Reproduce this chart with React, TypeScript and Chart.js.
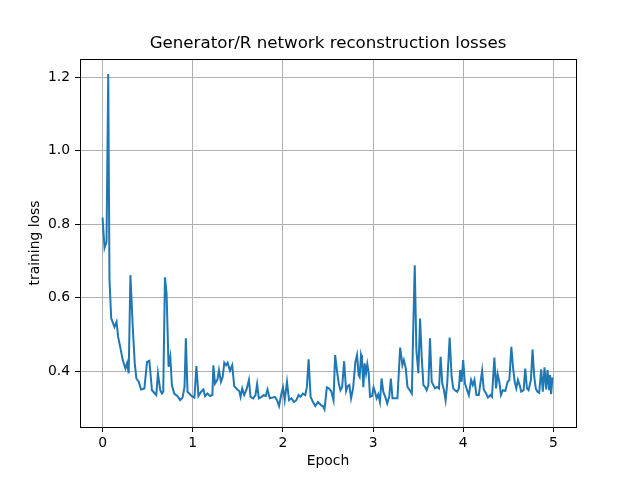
import React, { useEffect, useRef } from "react";
import { Chart, registerables } from "chart.js";

Chart.register(...registerables);

const epochs: number[] = [
  0.0, 0.022, 0.044, 0.063, 0.077, 0.096, 0.132, 0.155, 0.173, 0.199, 0.224, 0.254, 0.272, 0.29, 0.309,
  0.335, 0.357, 0.375, 0.401, 0.427, 0.464, 0.493, 0.519, 0.548, 0.596, 0.614, 0.64, 0.659, 0.673, 0.692,
  0.71, 0.732, 0.751, 0.769, 0.795, 0.831, 0.861, 0.887, 0.909, 0.924, 0.942, 0.99, 1.019, 1.041, 1.063,
  1.093, 1.119, 1.137, 1.163, 1.192, 1.218, 1.229, 1.247, 1.273, 1.291, 1.313, 1.332, 1.35, 1.369, 1.387,
  1.413, 1.438, 1.46, 1.494, 1.516, 1.531, 1.549, 1.571, 1.597, 1.623, 1.641, 1.67, 1.696, 1.714, 1.733,
  1.763, 1.788, 1.81, 1.829, 1.854, 1.884, 1.91, 1.935, 1.957, 1.984, 2.001, 2.02, 2.045, 2.068, 2.094,
  2.123, 2.149, 2.174, 2.196, 2.222, 2.248, 2.266, 2.285, 2.307, 2.333, 2.359, 2.388, 2.425, 2.443, 2.461,
  2.487, 2.509, 2.535, 2.561, 2.579, 2.601, 2.619, 2.638, 2.657, 2.679, 2.701, 2.719, 2.737, 2.756, 2.778,
  2.804, 2.822, 2.84, 2.851, 2.866, 2.877, 2.892, 2.906, 2.922, 2.936, 2.951, 2.966, 2.988, 3.005, 3.021,
  3.039, 3.057, 3.076, 3.094, 3.113, 3.135, 3.157, 3.179, 3.197, 3.215, 3.234, 3.27, 3.3, 3.325, 3.341,
  3.363, 3.381, 3.407, 3.43, 3.444, 3.462, 3.48, 3.502, 3.521, 3.539, 3.558, 3.576, 3.594, 3.613, 3.631,
  3.65, 3.668, 3.687, 3.712, 3.731, 3.749, 3.767, 3.786, 3.804, 3.822, 3.849, 3.871, 3.889, 3.907, 3.933,
  3.951, 3.966, 3.981, 3.999, 4.018, 4.036, 4.062, 4.087, 4.106, 4.124, 4.146, 4.172, 4.209, 4.227, 4.253,
  4.274, 4.3, 4.318, 4.345, 4.363, 4.381, 4.4, 4.418, 4.44, 4.466, 4.492, 4.511, 4.533, 4.551, 4.57,
  4.588, 4.606, 4.625, 4.643, 4.669, 4.687, 4.706, 4.724, 4.75, 4.768, 4.787, 4.804, 4.823, 4.842, 4.864,
  4.882, 4.901, 4.919, 4.934, 4.952, 4.963, 4.974, 4.989,
];

const losses: number[] = [
  0.818, 0.735, 0.752, 1.208, 0.648, 0.544, 0.52, 0.534, 0.493, 0.462, 0.43, 0.407, 0.422, 0.394, 0.661,
  0.52, 0.421, 0.38, 0.371, 0.35, 0.353, 0.425, 0.428, 0.348, 0.335, 0.394, 0.348, 0.339, 0.344, 0.655,
  0.611, 0.412, 0.439, 0.362, 0.339, 0.332, 0.321, 0.328, 0.357, 0.489, 0.344, 0.332, 0.328, 0.414, 0.332,
  0.344, 0.35, 0.332, 0.339, 0.332, 0.335, 0.416, 0.366, 0.376, 0.403, 0.371, 0.384, 0.423, 0.416, 0.423,
  0.401, 0.416, 0.359, 0.35, 0.346, 0.33, 0.353, 0.335, 0.35, 0.376, 0.33, 0.326, 0.335, 0.365, 0.326,
  0.33, 0.335, 0.332, 0.35, 0.326, 0.328, 0.33, 0.321, 0.305, 0.339, 0.356, 0.321, 0.371, 0.321, 0.326,
  0.316, 0.321, 0.335, 0.33, 0.339, 0.335, 0.357, 0.432, 0.33, 0.316, 0.305, 0.316, 0.307, 0.305, 0.296,
  0.356, 0.353, 0.346, 0.321, 0.444, 0.398, 0.367, 0.348, 0.357, 0.427, 0.346, 0.359, 0.362, 0.326, 0.353,
  0.425, 0.444, 0.389, 0.384, 0.444, 0.432, 0.356, 0.421, 0.394, 0.419, 0.395, 0.33, 0.332, 0.356, 0.344,
  0.326, 0.337, 0.316, 0.38, 0.344, 0.33, 0.312, 0.33, 0.38, 0.326, 0.326, 0.326, 0.464, 0.416, 0.43,
  0.407, 0.357, 0.348, 0.339, 0.503, 0.688, 0.457, 0.394, 0.543, 0.439, 0.362, 0.357, 0.348, 0.362, 0.489,
  0.371, 0.362, 0.353, 0.357, 0.353, 0.439, 0.367, 0.348, 0.321, 0.367, 0.491, 0.384, 0.353, 0.348, 0.344,
  0.353, 0.403, 0.371, 0.43, 0.367, 0.353, 0.335, 0.376, 0.362, 0.376, 0.335, 0.335, 0.401, 0.35, 0.339,
  0.328, 0.335, 0.33, 0.437, 0.353, 0.392, 0.371, 0.335, 0.348, 0.346, 0.371, 0.376, 0.466, 0.412, 0.371,
  0.353, 0.376, 0.362, 0.344, 0.348, 0.407, 0.353, 0.348, 0.376, 0.459, 0.384, 0.353, 0.344, 0.341, 0.405,
  0.344, 0.41, 0.35, 0.403, 0.348, 0.389, 0.337, 0.383,
];

const xTicks: number[] = [0, 1, 2, 3, 4, 5];
const yTicks: number[] = [0.4, 0.6, 0.8, 1.0, 1.2];

const TITLE = "Generator/R network reconstruction losses";
const X_LABEL = "Epoch";
const Y_LABEL = "training loss";

const FONT = "'DejaVu Sans', sans-serif";

const spinePlugin = {
  id: "spines",
  afterDatasetsDraw(chart: any) {
    const { ctx, chartArea } = chart;
    ctx.save();
    ctx.strokeStyle = "#000000";
    ctx.lineWidth = 1;
    ctx.strokeRect(
      Math.round(chartArea.left) + 0.5,
      Math.round(chartArea.top) + 0.5,
      Math.round(chartArea.right - chartArea.left),
      Math.round(chartArea.bottom - chartArea.top)
    );
    ctx.restore();
  },
};

export default function App() {
  const canvasRef = useRef<HTMLCanvasElement | null>(null);

  useEffect(() => {
    if (!canvasRef.current) return;
    const points = epochs.map((e, i) => ({ x: e, y: losses[i] }));
    const chart = new Chart(canvasRef.current, {
      type: "line",
      data: {
        datasets: [
          {
            data: points,
            borderColor: "#1f77b4",
            borderWidth: 2,
            pointRadius: 0,
            tension: 0,
            fill: false,
          },
        ],
      },
      options: {
        animation: false,
        responsive: false,
        maintainAspectRatio: false,
        layout: { padding: { left: 16, right: 0, top: 0, bottom: 0 } },
        plugins: {
          legend: { display: false },
          tooltip: { enabled: false },
          title: {
            display: true,
            text: TITLE,
            color: "#000000",
            font: { family: FONT, size: 16.67, weight: "normal" },
            padding: { top: 34, bottom: 5 },
          },
        },
        scales: {
          x: {
            type: "linear",
            min: -0.25,
            max: 5.25,
            afterBuildTicks: (scale: any) => {
              scale.ticks = xTicks.map((v) => ({ value: v }));
            },
            afterFit: (scale: any) => {
              scale.height = 53;
            },
            ticks: {
              color: "#000000",
              font: { family: FONT, size: 13.9 },
              padding: 3,
              maxRotation: 0,
              callback: (v: any) => String(v),
            },
            grid: {
              color: "#b0b0b0",
              lineWidth: 1,
              drawTicks: true,
              tickLength: 5,
              tickColor: "#000000",
            },
            border: { display: false },
            title: {
              display: true,
              text: X_LABEL,
              color: "#000000",
              font: { family: FONT, size: 13.9 },
              padding: { top: 0, bottom: 10 },
            },
          },
          y: {
            type: "linear",
            min: 0.248,
            max: 1.249,
            afterBuildTicks: (scale: any) => {
              scale.ticks = yTicks.map((v) => ({ value: v }));
            },
            afterFit: (scale: any) => {
              scale.width = 64;
            },
            ticks: {
              color: "#000000",
              font: { family: FONT, size: 13.9 },
              padding: 5,
              callback: (v: any) => Number(v).toFixed(1),
            },
            grid: {
              color: "#b0b0b0",
              lineWidth: 1,
              drawTicks: true,
              tickLength: 5,
              tickColor: "#000000",
            },
            border: { display: false },
            title: {
              display: true,
              text: Y_LABEL,
              color: "#000000",
              font: { family: FONT, size: 13.9 },
              padding: { top: 11, bottom: 0 },
            },
          },
          yRight: {
            type: "linear",
            position: "right",
            display: true,
            min: 0,
            max: 1,
            afterFit: (scale: any) => {
              scale.width = 64;
            },
            ticks: { display: false },
            grid: { display: false, drawOnChartArea: false, drawTicks: false },
            border: { display: false },
            title: { display: false },
          },
        },
      },
      plugins: [spinePlugin],
    } as any);
    return () => chart.destroy();
  }, []);

  return (
    <div style={{ position: "absolute", left: 0, top: 0, width: 640, height: 480, background: "#ffffff" }}>
      <canvas ref={canvasRef} width={640} height={480} />
    </div>
  );
}
